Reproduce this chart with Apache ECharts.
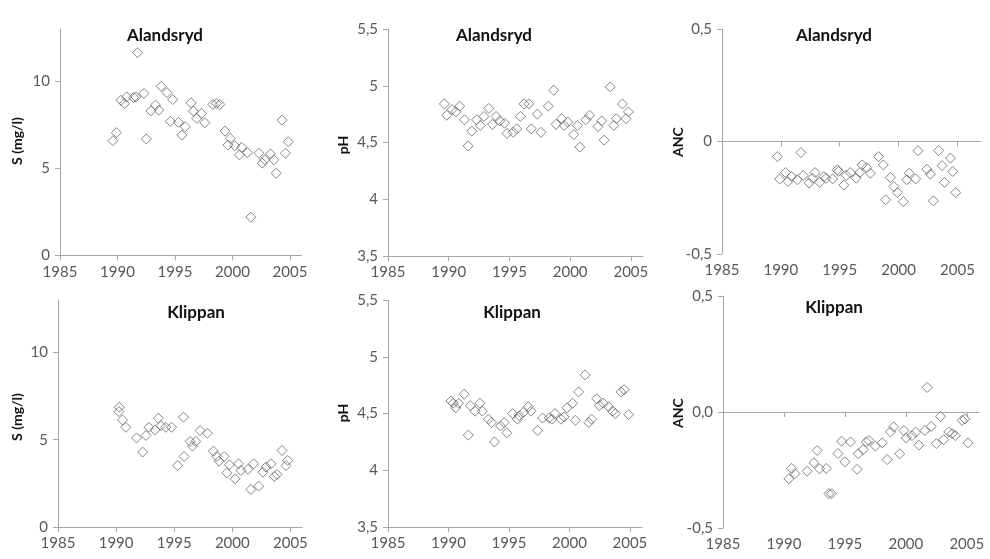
<!DOCTYPE html>
<html><head><meta charset="utf-8">
<script src="https://cdn.jsdelivr.net/npm/echarts@6/dist/echarts.min.js"></script>
<style>html,body{margin:0;padding:0;background:#fff}#c{width:990px;height:559px}</style>
</head><body><div id="c"></div>
<script>
// ---- data (year, value) ----
const alandsrydS = [[1989.6,6.59],[1989.9,7.05],[1990.3,8.91],[1990.6,8.72],[1990.8,9.1],[1991.4,9.07],[1991.6,9.1],[1991.75,11.64],[1992.3,9.3],[1992.5,6.69],[1992.9,8.3],[1993.3,8.63],[1993.6,8.34],[1993.8,9.71],[1994.3,9.35],[1994.6,7.7],[1994.8,8.95],[1995.3,7.64],[1995.6,6.91],[1995.9,7.39],[1996.4,8.76],[1996.6,8.29],[1996.9,7.87],[1997.3,8.15],[1997.6,7.62],[1998.3,8.67],[1998.6,8.72],[1998.9,8.67],[1999.35,7.14],[1999.6,6.34],[1999.8,6.72],[2000.2,6.3],[2000.6,5.77],[2000.8,6.21],[2001.3,5.9],[2001.6,2.2],[2002.3,5.87],[2002.6,5.3],[2002.8,5.49],[2003.3,5.83],[2003.6,5.49],[2003.8,4.72],[2004.3,7.77],[2004.6,5.87],[2004.85,6.53]];
const alandsrydPH = [[1989.64,4.84],[1989.84,4.74],[1990.27,4.79],[1990.6,4.77],[1990.9,4.82],[1991.3,4.70],[1991.6,4.47],[1991.9,4.60],[1992.3,4.70],[1992.6,4.65],[1992.9,4.73],[1993.3,4.80],[1993.6,4.66],[1993.9,4.73],[1994.2,4.69],[1994.6,4.67],[1994.8,4.58],[1995.3,4.59],[1995.6,4.62],[1995.9,4.73],[1996.2,4.84],[1996.6,4.84],[1996.8,4.62],[1997.3,4.75],[1997.6,4.59],[1998.2,4.82],[1998.65,4.96],[1998.85,4.66],[1999.3,4.71],[1999.5,4.65],[1999.8,4.68],[2000.3,4.57],[2000.6,4.65],[2000.8,4.46],[2001.3,4.70],[2001.6,4.74],[2002.3,4.64],[2002.6,4.69],[2002.8,4.52],[2003.3,4.99],[2003.6,4.65],[2003.8,4.71],[2004.3,4.84],[2004.6,4.71],[2004.8,4.77]];
const alandsrydANC = [[1989.7,-0.067],[1989.9,-0.167],[1990.4,-0.138],[1990.6,-0.178],[1990.9,-0.156],[1991.4,-0.17],[1991.7,-0.049],[1991.9,-0.151],[1992.4,-0.185],[1992.7,-0.163],[1992.9,-0.138],[1993.3,-0.182],[1993.65,-0.156],[1993.85,-0.163],[1994.4,-0.166],[1994.8,-0.126],[1994.9,-0.133],[1995.35,-0.194],[1995.55,-0.151],[1995.9,-0.138],[1996.4,-0.163],[1996.7,-0.138],[1996.9,-0.104],[1997.3,-0.116],[1997.6,-0.141],[1998.3,-0.067],[1998.7,-0.104],[1998.9,-0.259],[1999.3,-0.16],[1999.6,-0.2],[1999.9,-0.227],[2000.4,-0.267],[2000.7,-0.17],[2000.9,-0.141],[2001.45,-0.166],[2001.65,-0.041],[2002.4,-0.123],[2002.7,-0.145],[2002.95,-0.264],[2003.4,-0.04],[2003.7,-0.107],[2003.9,-0.182],[2004.4,-0.074],[2004.6,-0.133],[2004.85,-0.227]];
const klippanS = [[1990.27,6.86],[1990.24,6.61],[1990.55,6.13],[1990.84,5.71],[1991.76,5.10],[1992.28,4.29],[1992.57,5.24],[1992.83,5.71],[1993.35,5.56],[1993.63,6.23],[1993.86,5.81],[1994.27,5.71],[1994.78,5.71],[1995.3,3.52],[1995.8,6.29],[1995.85,4.04],[1996.37,4.9],[1996.57,4.63],[1996.86,4.9],[1997.23,5.52],[1997.86,5.37],[1998.38,4.34],[1998.67,4.04],[1998.87,3.77],[1999.3,4.04],[1999.53,3.1],[1999.76,3.56],[2000.25,2.76],[2000.54,3.62],[2000.74,3.24],[2001.35,3.3],[2001.6,2.15],[2001.83,3.62],[2002.27,2.34],[2002.64,3.14],[2002.9,3.43],[2003.33,3.62],[2003.62,2.9],[2003.85,3.01],[2004.28,4.38],[2004.63,3.52],[2004.77,3.81]];
const klippanPH = [[1990.2,4.61],[1990.4,4.59],[1990.6,4.55],[1990.84,4.59],[1991.3,4.67],[1991.64,4.31],[1991.8,4.57],[1992.2,4.52],[1992.6,4.59],[1992.8,4.52],[1993.3,4.45],[1993.57,4.42],[1993.8,4.25],[1994.3,4.39],[1994.6,4.42],[1994.83,4.33],[1995.3,4.5],[1995.7,4.45],[1995.85,4.48],[1996.2,4.51],[1996.6,4.56],[1996.82,4.52],[1997.37,4.35],[1997.78,4.46],[1998.33,4.46],[1998.55,4.45],[1998.8,4.5],[1999.3,4.45],[1999.57,4.47],[1999.8,4.55],[2000.26,4.59],[2000.5,4.44],[2000.76,4.69],[2001.3,4.84],[2001.6,4.42],[2001.83,4.45],[2002.25,4.63],[2002.47,4.57],[2002.8,4.59],[2003.24,4.56],[2003.57,4.52],[2003.8,4.5],[2004.26,4.69],[2004.53,4.71],[2004.9,4.49]];
const klippanANC = [[1990.4,-0.288],[1990.63,-0.243],[1990.9,-0.266],[1991.9,-0.255],[1992.46,-0.219],[1992.73,-0.166],[1992.92,-0.245],[1993.47,-0.243],[1993.69,-0.352],[1993.9,-0.352],[1994.43,-0.179],[1994.73,-0.126],[1995.0,-0.215],[1995.46,-0.129],[1996.0,-0.247],[1996.09,-0.18],[1996.5,-0.162],[1996.75,-0.129],[1996.97,-0.123],[1997.5,-0.147],[1998.06,-0.133],[1998.47,-0.205],[1998.74,-0.086],[1999.0,-0.064],[1999.5,-0.18],[1999.84,-0.08],[2000.03,-0.112],[2000.5,-0.102],[2000.8,-0.087],[2001.07,-0.143],[2001.56,-0.08],[2001.75,0.106],[2002.08,-0.062],[2002.5,-0.136],[2002.84,-0.019],[2003.1,-0.119],[2003.52,-0.086],[2003.8,-0.093],[2004.07,-0.102],[2004.62,-0.036],[2004.84,-0.03],[2005.1,-0.133]];

const xTicks = [1985, 1990, 1995, 2000, 2005];
const sTicks = [0, 5, 10];
const phTicks = [3.5, 4, 4.5, 5, 5.5];
const ancTicks = [-0.5, 0, 0.5];
const titles = ['Alandsryd', 'Alandsryd', 'Alandsryd', 'Klippan', 'Klippan', 'Klippan'];
const yNames = ['S (mg/l)', 'pH', 'ANC', 'S (mg/l)', 'pH', 'ANC'];

// ---- layout / style ----
const FONT = 'Lato, "Open Sans", sans-serif';
const AX = '#a6a6a6', TXT = '#595959';
const comma = v => String(v).replace('.', ',');
const panels = [
  {data: alandsrydS,   grid:{left:60, top:29, width:241.5, height:226.5}, xmax:2006, ymin:0,   ymax:13,  yt:sTicks,  fmt:v=>String(v), anc:false, title:[165,36], name:[17,141]},
  {data: alandsrydPH,  grid:{left:388,top:29, width:255, height:227}, xmax:2006, ymin:3.5, ymax:5.5, yt:phTicks, fmt:comma, anc:false, title:[494,36], name:[343,145]},
  {data: alandsrydANC, grid:{left:722,top:29, width:259, height:225}, xmax:2007, ymin:-0.5,ymax:0.5, yt:ancTicks,fmt:v=>v===0?'0':comma(v), anc:true, title:[834,36], name:[678,142]},
  {data: klippanS,     grid:{left:58, top:300,width:244, height:227}, xmax:2006, ymin:0,   ymax:13,  yt:sTicks,  fmt:v=>String(v), anc:false, title:[196,313], name:[17,417]},
  {data: klippanPH,    grid:{left:388,top:300,width:254, height:227}, xmax:2006, ymin:3.5, ymax:5.5, yt:phTicks, fmt:comma, anc:false, title:[512,313], name:[343,413]},
  {data: klippanANC,   grid:{left:723,top:296,width:256, height:232}, xmax:2006, ymin:-0.5,ymax:0.5, yt:ancTicks,fmt:v=>v===0?'0,0':comma(v), anc:true, title:[834,308], name:[678,413]}
];

const grid = [], xAxis = [], yAxis = [], series = [], graphic = [];
const labelStyle = {color: TXT, fontFamily: FONT, fontSize: 15};
panels.forEach((p, i) => {
  grid.push(Object.assign({containLabel:false}, p.grid));
  const xi = xAxis.length;
  xAxis.push({
    type:'value', gridIndex:i, min:1985, max:p.xmax, position:'bottom',
    axisLine:{show:!p.anc, onZero:false, lineStyle:{color:AX}},
    axisTick:{show:!p.anc, length:5, lineStyle:{color:AX}, customValues:xTicks},
    axisLabel:Object.assign({margin:9, customValues:xTicks, formatter:v=>String(v)}, labelStyle),
    splitLine:{show:false}
  });
  if (p.anc) {
    xAxis.push({
      type:'value', gridIndex:i, min:1985, max:p.xmax, position:'bottom',
      axisLine:{show:true, onZero:true, lineStyle:{color:AX}},
      axisTick:{show:true, length:5, lineStyle:{color:AX}, customValues:xTicks},
      axisLabel:{show:false},
      splitLine:{show:false}
    });
  }
  yAxis.push({
    type:'value', gridIndex:i, min:p.ymin, max:p.ymax,
    axisLine:{show:true, onZero:false, lineStyle:{color:AX}},
    axisTick:{show:true, length:5, lineStyle:{color:AX}, customValues:p.yt},
    axisLabel:Object.assign({margin:10, customValues:p.yt, formatter:p.fmt}, labelStyle),
    splitLine:{show:false}
  });
  series.push({
    type:'scatter', xAxisIndex:xi, yAxisIndex:i, data:p.data,
    symbol:'diamond', symbolSize:10,
    itemStyle:{color:'rgba(255,255,255,0)', borderColor:'#666666', borderWidth:1},
    silent:true, animation:false
  });
  graphic.push({type:'text', x:p.title[0], y:p.title[1],
    style:{text:titles[i], font:'bold 17px '+FONT, fill:'#111', textAlign:'center', textVerticalAlign:'middle'}});
  graphic.push({type:'text', x:p.name[0], y:p.name[1], rotation:Math.PI/2,
    style:{text:yNames[i], font:'bold 14px '+FONT, fill:'#111', textAlign:'center', textVerticalAlign:'middle'}});
});

const chart = echarts.init(document.getElementById('c'), null, {renderer:'canvas'});
chart.setOption({animation:false, backgroundColor:'#fff', grid, xAxis, yAxis, series, graphic});
</script></body></html>
